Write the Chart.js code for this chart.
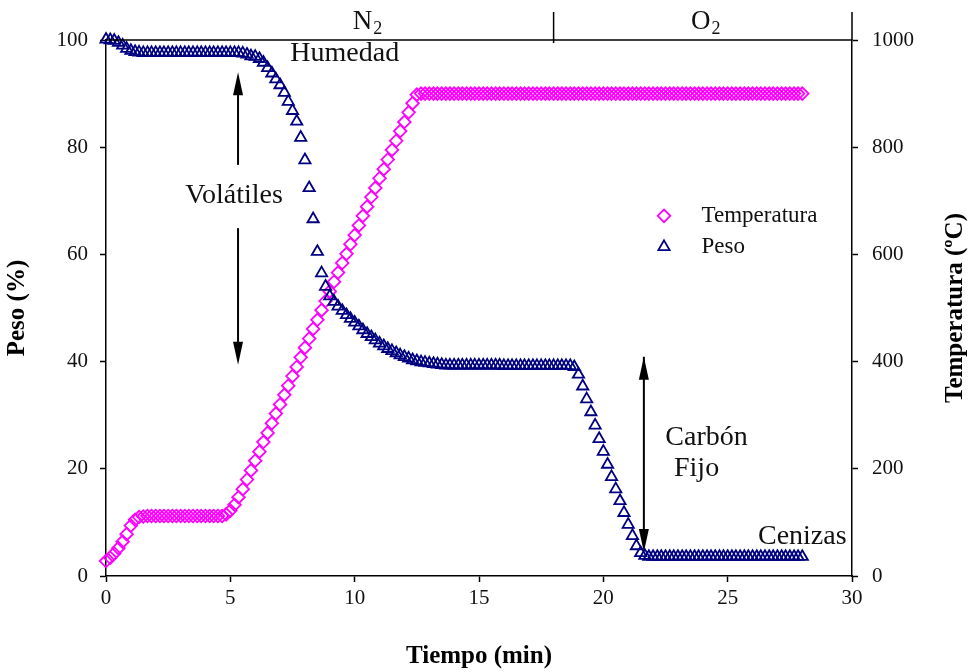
<!DOCTYPE html>
<html>
<head>
<meta charset="utf-8">
<script src="https://cdn.jsdelivr.net/npm/chart.js@4.4.1/dist/chart.umd.min.js"></script>
<style>
  html, body { margin: 0; padding: 0; background: #fff; }
  #wrap { width: 971px; height: 672px; }
</style>
</head>
<body>
<div id="wrap"><canvas id="tga" width="971" height="672"></canvas></div>
<script>
// time samples (min), one every 10 s
const tiempo = [
    0, 0.17, 0.33, 0.5, 0.67, 0.83,
    1, 1.17, 1.33, 1.5, 1.67, 1.83,
    2, 2.17, 2.33, 2.5, 2.67, 2.83,
    3, 3.17, 3.33, 3.5, 3.67, 3.83,
    4, 4.17, 4.33, 4.5, 4.67, 4.83,
    5, 5.17, 5.33, 5.5, 5.67, 5.83,
    6, 6.17, 6.33, 6.5, 6.67, 6.83,
    7, 7.17, 7.33, 7.5, 7.67, 7.83,
    8, 8.17, 8.33, 8.5, 8.67, 8.83,
    9, 9.17, 9.33, 9.5, 9.67, 9.83,
    10, 10.17, 10.33, 10.5, 10.67, 10.83,
    11, 11.17, 11.33, 11.5, 11.67, 11.83,
    12, 12.17, 12.33, 12.5, 12.67, 12.83,
    13, 13.17, 13.33, 13.5, 13.67, 13.83,
    14, 14.17, 14.33, 14.5, 14.67, 14.83,
    15, 15.17, 15.33, 15.5, 15.67, 15.83,
    16, 16.17, 16.33, 16.5, 16.67, 16.83,
    17, 17.17, 17.33, 17.5, 17.67, 17.83,
    18, 18.17, 18.33, 18.5, 18.67, 18.83,
    19, 19.17, 19.33, 19.5, 19.67, 19.83,
    20, 20.17, 20.33, 20.5, 20.67, 20.83,
    21, 21.17, 21.33, 21.5, 21.67, 21.83,
    22, 22.17, 22.33, 22.5, 22.67, 22.83,
    23, 23.17, 23.33, 23.5, 23.67, 23.83,
    24, 24.17, 24.33, 24.5, 24.67, 24.83,
    25, 25.17, 25.33, 25.5, 25.67, 25.83,
    26, 26.17, 26.33, 26.5, 26.67, 26.83,
    27, 27.17, 27.33, 27.5, 27.67, 27.83,
    28
];

// furnace temperature (ºC)
const temperatura = [
    28, 34, 42, 52, 64, 78,
    94, 105, 110, 111, 112, 112,
    112, 112, 112, 112, 112, 112,
    112, 112, 112, 112, 112, 112,
    112, 112, 112, 112, 112, 115,
    122, 133, 147, 162, 180, 197,
    215, 232, 250, 267, 285, 303,
    320, 338, 355, 373, 390, 408,
    426, 443, 461, 478, 496, 513,
    531, 549, 566, 584, 601, 619,
    636, 654, 672, 689, 707, 724,
    742, 759, 777, 795, 812, 830,
    847, 865, 882, 898, 900, 900,
    900, 900, 900, 900, 900, 900,
    900, 900, 900, 900, 900, 900,
    900, 900, 900, 900, 900, 900,
    900, 900, 900, 900, 900, 900,
    900, 900, 900, 900, 900, 900,
    900, 900, 900, 900, 900, 900,
    900, 900, 900, 900, 900, 900,
    900, 900, 900, 900, 900, 900,
    900, 900, 900, 900, 900, 900,
    900, 900, 900, 900, 900, 900,
    900, 900, 900, 900, 900, 900,
    900, 900, 900, 900, 900, 900,
    900, 900, 900, 900, 900, 900,
    900, 900, 900, 900, 900, 900,
    900, 900, 900, 900, 900, 900,
    900, 900, 900, 900, 900, 900,
    900
];

// sample weight (%)
const peso = [
    100.1, 100.0, 99.9, 99.5, 99.0, 98.4,
    98.0, 97.8, 97.7, 97.6, 97.6, 97.6,
    97.6, 97.6, 97.6, 97.6, 97.6, 97.6,
    97.6, 97.6, 97.6, 97.6, 97.6, 97.6,
    97.6, 97.6, 97.6, 97.6, 97.6, 97.6,
    97.6, 97.6, 97.6, 97.5, 97.3, 97.0,
    96.9, 96.5, 95.8, 94.8, 93.8, 92.7,
    91.6, 90.2, 88.5, 86.8, 84.8, 81.8,
    77.6, 72.4, 66.6, 60.5, 56.5, 54.0,
    52.2, 51.2, 50.3, 49.5, 48.7, 48.0,
    47.3, 46.6, 45.9, 45.2, 44.6, 44.0,
    43.4, 42.9, 42.4, 42.0, 41.6, 41.2,
    40.9, 40.6, 40.3, 40.1, 39.9, 39.8,
    39.7, 39.6, 39.5, 39.4, 39.3, 39.3,
    39.3, 39.3, 39.3, 39.3, 39.3, 39.3,
    39.3, 39.3, 39.3, 39.3, 39.3, 39.3,
    39.2, 39.2, 39.2, 39.2, 39.2, 39.2,
    39.2, 39.2, 39.2, 39.2, 39.2, 39.2,
    39.2, 39.2, 39.2, 39.2, 39.2, 39.0,
    37.6, 35.4, 33.0, 30.6, 28.1, 25.6,
    23.2, 20.8, 18.5, 16.2, 14.0, 11.8,
    9.6, 7.5, 5.6, 4.3, 3.8, 3.6,
    3.6, 3.6, 3.6, 3.6, 3.6, 3.6,
    3.6, 3.6, 3.6, 3.6, 3.6, 3.6,
    3.6, 3.6, 3.6, 3.6, 3.6, 3.6,
    3.6, 3.6, 3.6, 3.6, 3.6, 3.6,
    3.6, 3.6, 3.6, 3.6, 3.6, 3.6,
    3.6, 3.6, 3.6, 3.6, 3.6, 3.6,
    3.6
];

const xTicks = [0, 5, 10, 15, 20, 25, 30];
const pesoTicks = [0, 20, 40, 60, 80, 100];
const tempTicks = [0, 200, 400, 600, 800, 1000];
const cambioGas = 18;   // N2 -> O2 switch (min)

const SERIF = "'Liberation Serif', 'DejaVu Serif', serif";
const MAGENTA = "#FF00FF";
const NAVY = "#000080";

function pairs(xs, ys) {
    return xs.map((x, i) => ({ x: x, y: ys[i] }));
}

function arrowHead(ctx, x, yTip, dir) {
    // dir = -1 pointing up, 1 pointing down
    ctx.beginPath();
    ctx.moveTo(x, yTip);
    ctx.lineTo(x - 5, yTip - dir * 23);
    ctx.lineTo(x + 5, yTip - dir * 23);
    ctx.closePath();
    ctx.fill();
}

function arrow(ctx, x, yFrom, yTo, both) {
    const dir = yTo > yFrom ? 1 : -1;
    ctx.beginPath();
    ctx.moveTo(x, yFrom);
    ctx.lineTo(x, yTo - dir * 15);
    ctx.stroke();
    arrowHead(ctx, x, yTo, dir);
    if (both) arrowHead(ctx, x, yFrom, -dir);
}

function subText(ctx, main, sub, cx, cy) {
    ctx.font = "27px " + SERIF;
    const w1 = ctx.measureText(main).width;
    ctx.font = "18px " + SERIF;
    const w2 = ctx.measureText(sub).width;
    const x0 = cx - (w1 + w2) / 2;
    ctx.textAlign = "left";
    ctx.textBaseline = "alphabetic";
    ctx.font = "27px " + SERIF;
    ctx.fillText(main, x0, cy + 9);
    ctx.font = "18px " + SERIF;
    ctx.fillText(sub, x0 + w1 + 1, cy + 14);
}

const decor = {
    id: "decor",
    afterDraw(chart) {
        const ctx = chart.ctx;
        const a = chart.chartArea;
        const xs = chart.scales.x, ys = chart.scales.y;
        const px = v => xs.getPixelForValue(v);
        const py = v => ys.getPixelForValue(v);
        ctx.save();

        // top frame and gas separators
        ctx.strokeStyle = "#000";
        ctx.lineWidth = 1.5;
        ctx.beginPath();
        ctx.moveTo(a.left, a.top);
        ctx.lineTo(a.right, a.top);
        ctx.moveTo(px(cambioGas), a.top - 28);
        ctx.lineTo(px(cambioGas), a.top + 3);
        ctx.moveTo(a.right, a.top - 28);
        ctx.lineTo(a.right, a.top);
        ctx.stroke();

        ctx.fillStyle = "#111";
        subText(ctx, "N", "2", px(10.5), a.top - 20);
        subText(ctx, "O", "2", px(24.1), a.top - 20);

        // annotations
        ctx.font = "28px " + SERIF;
        ctx.textAlign = "center";
        ctx.textBaseline = "middle";
        ctx.fillText("Humedad", px(9.6), py(97.5));
        ctx.fillText("Volátiles", px(5.15), py(70.9));
        ctx.fillText("Carbón", px(24.15), py(25.9));
        ctx.fillText("Fijo", px(23.75), py(20.1));
        ctx.fillText("Cenizas", px(28.0), py(7.3));

        ctx.fillStyle = "#000";
        ctx.strokeStyle = "#000";
        ctx.lineWidth = 2;
        arrow(ctx, px(5.31), py(76.7), py(94.0), false);
        arrow(ctx, px(5.31), py(64.9), py(39.4), false);
        arrow(ctx, px(21.63), py(40.9), py(4.5), true);

        // legend
        const ds = chart.data.datasets;
        const rows = [py(67.2), py(61.4)];
        ds.forEach((d, i) => {
            ctx.strokeStyle = d.borderColor;
            ctx.fillStyle = "rgba(0,0,0,0)";
            ctx.lineWidth = d.pointBorderWidth;
            Chart.helpers.drawPoint(ctx, { pointStyle: d.pointStyle, radius: d.pointRadius, borderWidth: d.pointBorderWidth, rotation: 0 }, px(22.44), rows[i]);
            ctx.fillStyle = "#111";
            ctx.font = "23px " + SERIF;
            ctx.textAlign = "left";
            ctx.textBaseline = "middle";
            ctx.fillText(d.label, px(23.95), rows[i]);
        });

        // axis titles
        ctx.fillStyle = "#000";
        ctx.font = "bold 25px " + SERIF;
        ctx.textAlign = "center";
        ctx.textBaseline = "middle";
        ctx.fillText("Tiempo (min)", (a.left + a.right) / 2, 657);
        ctx.save();
        ctx.translate(18, (a.top + a.bottom) / 2);
        ctx.rotate(-Math.PI / 2);
        ctx.fillText("Peso (%)", 0, 0);
        ctx.restore();
        ctx.save();
        ctx.translate(956, (a.top + a.bottom) / 2);
        ctx.rotate(-Math.PI / 2);
        ctx.fillText("Temperatura (ºC)", 0, 0);
        ctx.restore();

        ctx.restore();
    }
};

function axisCommon(ticksList) {
    return {
        border: { display: true, color: "#000", width: 1.5 },
        grid: { drawOnChartArea: false, drawTicks: true, tickLength: 6, tickColor: "#000", tickWidth: 1.5 },
        afterBuildTicks: s => { s.ticks = ticksList.map(v => ({ value: v })); },
        ticks: { color: "#111", font: { family: SERIF, size: 21 }, padding: 10, callback: v => String(v) }
    };
}

const xAxis = axisCommon(xTicks);
xAxis.type = "linear";
xAxis.min = 0;
xAxis.max = 30;
xAxis.ticks.padding = 4;
xAxis.afterFit = s => { s.height = 96; };

const yAxis = axisCommon(pesoTicks);
yAxis.position = "left";
yAxis.min = 0;
yAxis.max = 100;
yAxis.ticks.padding = 12;
yAxis.afterFit = s => { s.width = 106; };

const y2Axis = axisCommon(tempTicks);
y2Axis.position = "right";
y2Axis.min = 0;
y2Axis.max = 1000;
y2Axis.ticks.padding = 14;
y2Axis.afterFit = s => { s.width = 119; };

new Chart(document.getElementById("tga"), {
    type: "scatter",
    data: {
        datasets: [
            {
                label: "Temperatura",
                data: pairs(tiempo, temperatura),
                yAxisID: "y2",
                pointStyle: "rectRot",
                pointRadius: 6.3,
                pointBorderWidth: 1.8,
                borderColor: MAGENTA,
                backgroundColor: "rgba(0,0,0,0)",
                showLine: false,
                clip: false,
                order: 2
            },
            {
                label: "Peso",
                data: pairs(tiempo, peso),
                yAxisID: "y",
                pointStyle: "triangle",
                pointRadius: 6.5,
                pointBorderWidth: 1.8,
                borderColor: NAVY,
                backgroundColor: "rgba(0,0,0,0)",
                showLine: false,
                clip: false,
                order: 1
            }
        ]
    },
    options: {
        responsive: false,
        animation: false,
        devicePixelRatio: 1,
        layout: { padding: { top: 40, left: 0, right: 0, bottom: 0 } },
        plugins: { legend: { display: false }, tooltip: { enabled: false } },
        scales: { x: xAxis, y: yAxis, y2: y2Axis }
    },
    plugins: [decor]
});
</script>
</body>
</html>
